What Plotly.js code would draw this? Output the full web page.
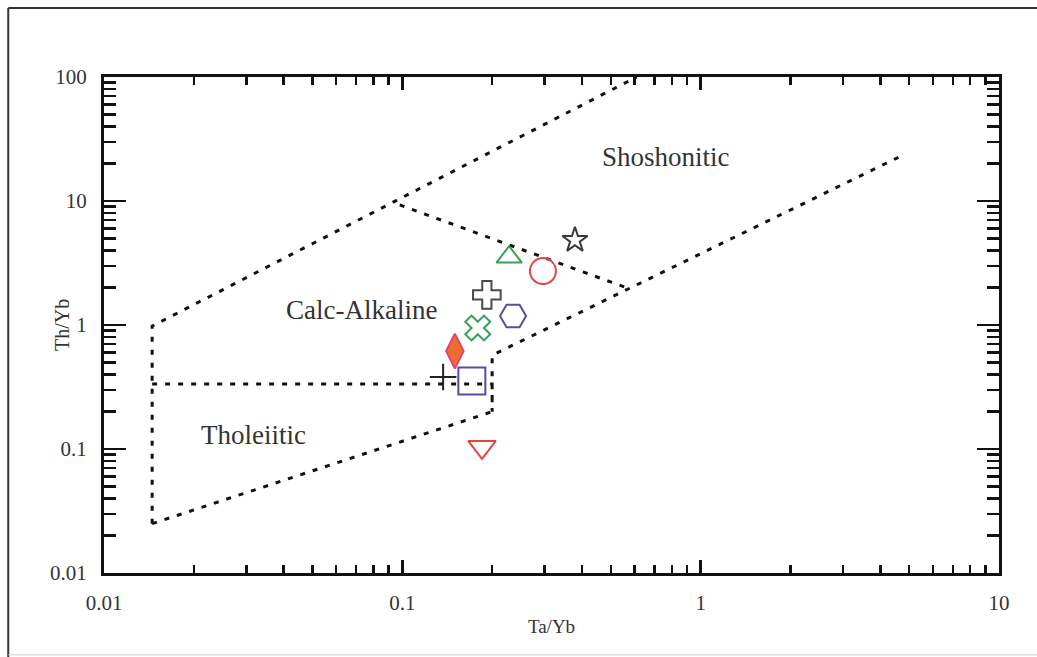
<!DOCTYPE html>
<html>
<head>
<meta charset="utf-8">
<script src="https://cdn.plot.ly/plotly-3.0.1.min.js"></script>
<style>html,body{margin:0;padding:0;background:#fff;}#plot{width:1037px;height:657px;}</style>
</head>
<body>
<div id="plot"></div>
<script>
// Boundary lines (Ta/Yb, Th/Yb)
const boundUpperX = [0.0145, 0.0145, 0.61];
const boundUpperY = [0.025, 0.98, 100];
const boundMidX = [0.0145, 0.2, 0.2, 0.2, 4.6];
const boundMidY = [0.334, 0.334, 0.2, 0.57, 22.5];
const boundLowX = [0.0145, 0.2];
const boundLowY = [0.025, 0.2];
const boundShoX = [0.098, 0.58];
const boundShoY = [9.3, 1.95];

// Samples
const sampleNames = ['A','B','C','D','E','F','G','H','I','J'];
const sampleX = [0.228, 0.379, 0.296, 0.192, 0.235, 0.179, 0.150, 0.137, 0.171, 0.185];
const sampleY = [3.53, 4.84, 2.72, 1.75, 1.18, 0.946, 0.616, 0.381, 0.353, 0.104];
const sampleSymbols = ['triangle-up-open','star-open','circle-open','cross-open','hexagon2-open','x-open','diamond-tall','cross-thin-open','square-open','triangle-down-open'];
const sampleColors = ['#35a05a','#3a3a3a','#e2473f','#4a4a4a','#5b4b9a','#35a05a','#ef6d2a','#222222','#5b4b9a','#e2473f'];
const sampleLineColors = ['#35a05a','#3a3a3a','#e2473f','#4a4a4a','#5b4b9a','#35a05a','#e2427a','#222222','#5b4b9a','#e2473f'];
const sampleSizes = [22, 19, 26, 23, 26, 22, 25, 19, 27, 24];

// Field labels
const fieldNames = ['Shoshonitic', 'Calc-Alkaline', 'Tholeiitic'];
const fieldX = [0.766, 0.0728, 0.0318];
const fieldY = [22.6, 1.32, 0.13];

// Axis ticks
const majorVals = [0.01, 0.1, 1, 10, 100];
const majorText = ['0.01', '0.1', '1', '10', '100'];
const minorVals = [];
for (let e = -2; e < 2; e++) for (let m = 2; m <= 9; m++) minorVals.push(m * Math.pow(10, e));

const dashStyle = {color: '#111', width: 3, dash: '5px,8px'};
const traces = [
  {x: boundUpperX, y: boundUpperY, mode: 'lines', line: dashStyle, hoverinfo: 'skip'},
  {x: boundMidX, y: boundMidY, mode: 'lines', line: dashStyle, hoverinfo: 'skip'},
  {x: boundLowX, y: boundLowY, mode: 'lines', line: dashStyle, hoverinfo: 'skip'},
  {x: boundShoX, y: boundShoY, mode: 'lines', line: dashStyle, hoverinfo: 'skip'}
];
for (let i = 0; i < sampleX.length; i++) {
  traces.push({
    x: [sampleX[i]], y: [sampleY[i]], mode: 'markers', name: sampleNames[i],
    marker: {symbol: sampleSymbols[i], size: sampleSizes[i], color: sampleColors[i],
             line: {color: sampleLineColors[i], width: 2}}
  });
}

const font = '"Liberation Serif", "Times New Roman", serif';
const axisCommon = {
  type: 'log', showgrid: false, zeroline: false, showline: true, linecolor: '#111', linewidth: 3,
  mirror: 'ticks', ticks: 'inside', tickwidth: 2.5, tickcolor: '#111',
  tickmode: 'array', tickvals: majorVals, ticktext: majorText,
  tickfont: {family: font, size: 21, color: '#333'},
  minor: {tickmode: 'array', tickvals: minorVals, ticks: 'inside', tickwidth: 2.5, tickcolor: '#111'}
};

const layout = {
  width: 1037, height: 657,
  margin: {l: 104, r: 38, t: 77, b: 84},
  paper_bgcolor: '#fff', plot_bgcolor: '#fff',
  showlegend: false,
  font: {family: font, color: '#333'},
  xaxis: Object.assign({}, axisCommon, {
    range: [-2, 1], ticklen: 13, ticklabelstandoff: 9,
    minor: Object.assign({}, axisCommon.minor, {ticklen: 8}),
    title: {text: 'Ta/Yb', font: {family: font, size: 19, color: '#333'}, standoff: 6}
  }),
  yaxis: Object.assign({}, axisCommon, {
    range: [-2, 2], ticklen: 22, ticklabelstandoff: 10,
    minor: Object.assign({}, axisCommon.minor, {ticklen: 12})
  }),
  annotations: fieldNames.map((t, i) => ({
    x: Math.log10(fieldX[i]), y: Math.log10(fieldY[i]), xref: 'x', yref: 'y',
    text: t, showarrow: false, font: {family: font, size: 27, color: '#333'}
  })).concat([{
    x: -0.047, y: 0.5, xref: 'paper', yref: 'paper', text: 'Th/Yb', textangle: -90,
    showarrow: false, xanchor: 'center', yanchor: 'middle', font: {family: font, size: 20, color: '#333'}
  }]),
  shapes: [
    {type: 'line', xref: 'paper', yref: 'paper', x0: -0.107, x1: 1.1, y0: 1.139, y1: 1.139, line: {color: '#333', width: 2}},
    {type: 'line', xref: 'paper', yref: 'paper', x0: -0.107, x1: -0.107, y0: 1.139, y1: -0.17, line: {color: '#333', width: 2}},
    {type: 'line', xref: 'paper', yref: 'paper', x0: -0.107, x1: 1.1, y0: -0.165, y1: -0.165, line: {color: '#ccc', width: 1}}
  ]
};

Plotly.newPlot('plot', traces, layout, {displayModeBar: false, staticPlot: true});
</script>
</body>
</html>
